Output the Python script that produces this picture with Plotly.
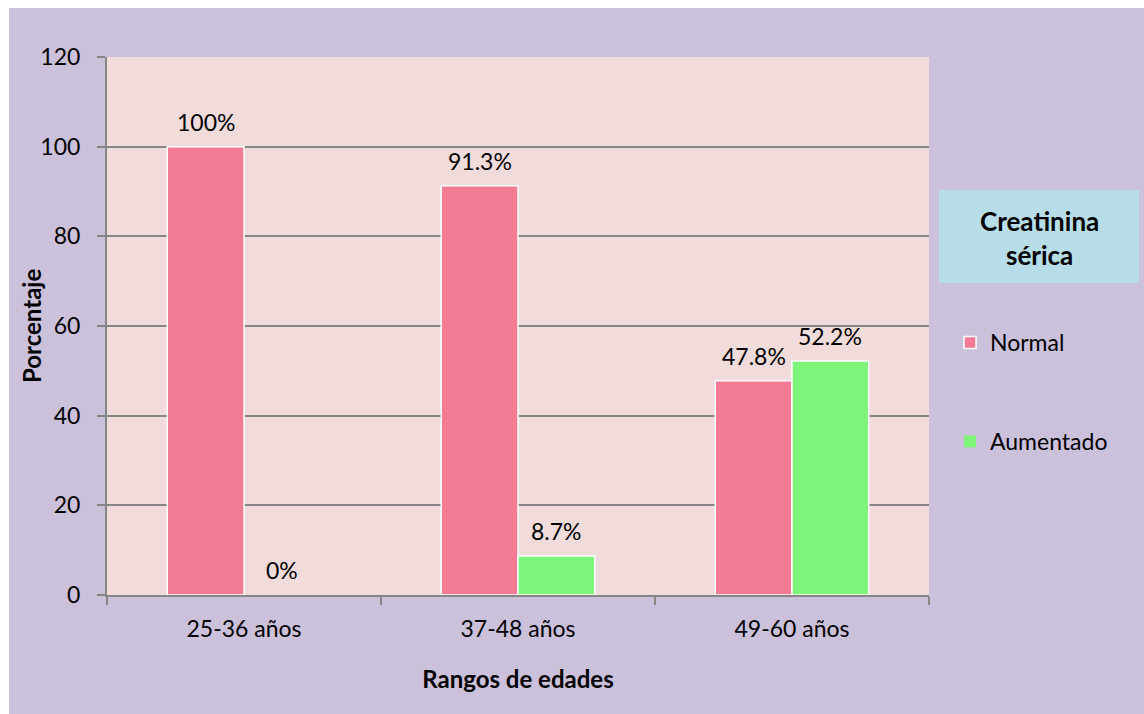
import plotly.graph_objects as go

categories = ["25-36 años", "37-48 años", "49-60 años"]
normal = [100, 91.3, 47.8]
aumentado = [0, 8.7, 52.2]
normal_labels = ["100%", "91.3%", "47.8%"]
aumentado_labels = ["0%", "8.7%", "52.2%"]
series_names = ["Normal", "Aumentado"]
y_ticks = [0, 20, 40, 60, 80, 100, 120]

W, H = 1144, 714
L, R, T, B = 107, 215, 57, 119
pw, ph = W - L - R, H - T - B

def px(x):
    return (x - L) / pw

def py(y):
    return (H - B - y) / ph

FONT = "Lato, Carlito, Calibri, sans-serif"
FS = 23
PINK = "#F47B94"
GREEN = "#7FF47A"
LAV = "#CCC1DA"
BAR_W = 0.28

fig = go.Figure()
fig.add_trace(go.Bar(
    x=categories, y=normal, name=series_names[0],
    marker=dict(color=PINK, line=dict(color="white", width=[1.5 if v > 0 else 0 for v in normal])),
    legendgroup="a",
))
fig.add_trace(go.Bar(
    x=categories, y=aumentado, name=series_names[1],
    marker=dict(color=GREEN, line=dict(color="white", width=[1.5 if v > 0 else 0 for v in aumentado])),
    legendgroup="b",
))

annotations = []
for i, (v, t) in enumerate(zip(normal, normal_labels)):
    annotations.append(dict(xref="x", yref="y", x=i - BAR_W / 2, y=v, text=t,
                            showarrow=False, yanchor="bottom", yshift=9,
                            font=dict(size=FS, family=FONT, color="black")))
for i, (v, t) in enumerate(zip(aumentado, aumentado_labels)):
    annotations.append(dict(xref="x", yref="y", x=i + BAR_W / 2, y=v, text=t,
                            showarrow=False, yanchor="bottom", yshift=9,
                            font=dict(size=FS, family=FONT, color="black")))
annotations.append(dict(xref="paper", yref="paper", x=px(1039), y=py(238),
                        xanchor="center", yanchor="middle",
                        text="<b>Creatinina<br>sérica</b>", showarrow=False,
                        font=dict(size=26, family=FONT, color="black"), align="center"))
annotations.append(dict(xref="paper", yref="paper", x=px(31), y=py(326),
                        xanchor="center", yanchor="middle", textangle=-90,
                        text="<b>Porcentaje</b>", showarrow=False,
                        font=dict(size=24, family=FONT, color="black")))

fig.update_layout(
    width=W, height=H,
    margin=dict(l=L, r=R, t=T, b=B),
    paper_bgcolor=LAV,
    plot_bgcolor="#F2DCDB",
    barmode="group",
    bargap=1 - 2 * BAR_W,
    bargroupgap=0,
    font=dict(family=FONT, size=FS, color="black"),
    showlegend=True,
    legend=dict(
        x=px(950), xanchor="left", y=py(321), yanchor="top",
        bgcolor="rgba(0,0,0,0)", tracegroupgap=66,
        font=dict(size=FS, family=FONT),
    ),
    xaxis=dict(
        showline=True, linecolor="#868686", linewidth=2,
        ticks="outside", tickson="boundaries", ticklen=8, tickcolor="#868686", tickwidth=2,
        tickfont=dict(size=FS), ticklabelstandoff=12,
        title=dict(text="<b>Rangos de edades</b>", font=dict(size=24), standoff=31),
    ),
    yaxis=dict(
        range=[0, 120], tickvals=y_ticks,
        showline=True, linecolor="#868686", linewidth=2,
        ticks="outside", ticklen=8, tickcolor="#868686", tickwidth=2,
        showgrid=True, gridcolor="#868686", gridwidth=1.5,
        zeroline=False,
        tickfont=dict(size=FS), ticklabelstandoff=12,
    ),
    shapes=[
        dict(type="rect", xref="paper", yref="paper",
             x0=px(-5), x1=px(9), y0=py(-5), y1=py(H + 5),
             fillcolor="white", line=dict(width=0), layer="above"),
        dict(type="rect", xref="paper", yref="paper",
             x0=px(-5), x1=px(W + 5), y0=py(-5), y1=py(8),
             fillcolor="white", line=dict(width=0), layer="above"),
        dict(type="rect", xref="paper", yref="paper",
             x0=px(939), x1=px(1139), y0=py(190), y1=py(283),
             fillcolor="#B7DEE8", line=dict(width=0), layer="below"),
    ],
    annotations=annotations,
)

fig.write_html("out.html")
